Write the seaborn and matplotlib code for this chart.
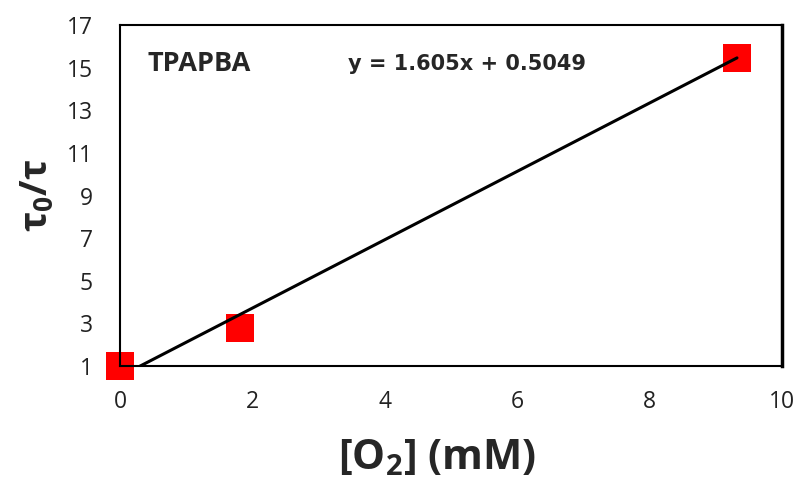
import matplotlib
matplotlib.use("Agg")
import matplotlib.pyplot as plt
import numpy as np
import pandas as pd
import seaborn as sns

# Measured Stern-Volmer data for TPAPBA
o2_mM = [0.0, 1.81, 9.32]
tau_ratio = [1.0, 2.78, 15.45]

# Linear fit reported on the chart
slope = 1.605
intercept = 0.5049

x_ticks = [0, 2, 4, 6, 8, 10]
y_ticks = [1, 3, 5, 7, 9, 11, 13, 15, 17]

sns.set_theme(style="white")
plt.rcParams["font.family"] = ["Open Sans", "DejaVu Sans"]
plt.rcParams["mathtext.fontset"] = "custom"
plt.rcParams["mathtext.rm"] = "Open Sans:bold"
plt.rcParams["mathtext.bf"] = "Open Sans:bold"
plt.rcParams["mathtext.it"] = "Open Sans:bold"

fig = plt.figure(figsize=(8, 4.84), dpi=100)
ax = fig.add_axes([0.15, 0.244, 0.8275, 0.704])

df = pd.DataFrame({"o2": o2_mM, "ratio": tau_ratio})
fit_x = np.array([0.0, max(o2_mM)])
fit = pd.DataFrame({"o2": fit_x, "ratio": slope * fit_x + intercept})

sns.lineplot(data=fit, x="o2", y="ratio", color="black", linewidth=2.2, ax=ax, zorder=3)
sns.scatterplot(data=df, x="o2", y="ratio", marker="s", s=400, color="#ff0000",
                edgecolor="none", linewidth=0, ax=ax, zorder=2, clip_on=False)

ax.set_xlim(0, 10)
ax.set_ylim(1, 17)
ax.set_xticks(x_ticks)
ax.set_yticks(y_ticks)
ax.tick_params(axis="both", length=0, labelsize=16.5, colors="#222222")
ax.tick_params(axis="y", pad=19.5)
ax.tick_params(axis="x", pad=17)

for side in ["left", "bottom", "top"]:
    ax.spines[side].set_color("black")
    ax.spines[side].set_linewidth(1.5)
ax.spines["right"].set_color("black")
ax.spines["right"].set_linewidth(2.5)

ax.set_xlabel("[O$_2$] (mM)", fontsize=30, fontweight="bold")
ax.xaxis.set_label_coords(0.479, -0.212)
ax.set_ylabel("τ$_0$/τ", fontsize=27, fontweight="bold")
ax.yaxis.set_label_coords(-0.095, 0.5)

ax.text(0.042, 0.885, "TPAPBA", transform=ax.transAxes, fontsize=19.5,
        fontweight="bold", va="center", ha="left")
ax.text(0.344, 0.885, f"y = {slope}x + {intercept}", transform=ax.transAxes,
        fontsize=15, fontweight="bold", va="center", ha="left",
        family="DejaVu Sans")

fig.savefig("out.png", dpi=100)
